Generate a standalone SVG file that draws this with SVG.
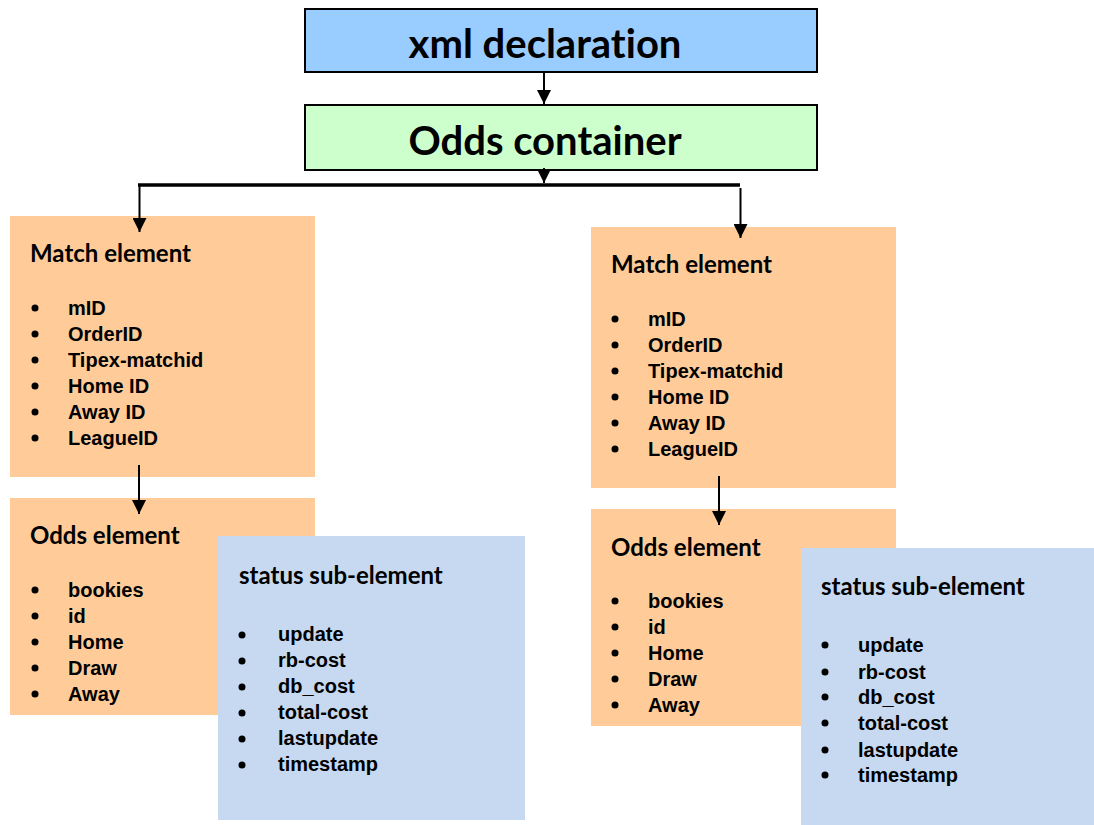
<svg xmlns="http://www.w3.org/2000/svg" width="1094" height="825" viewBox="0 0 1094 825">
<style>
.hdr{stroke:#000;stroke-width:2}
.orange{fill:#ffcc99}
.blue{fill:#c6d9f0}
.big{font-family:Lato,"Open Sans",sans-serif;font-weight:bold;font-size:40px;fill:#000;text-anchor:middle;font-variant-ligatures:none}
.title{font-family:Lato,"Open Sans",sans-serif;font-weight:bold;font-size:24px;fill:#000;font-variant-ligatures:none}
.item{font-family:"Liberation Sans",Arial,sans-serif;font-weight:bold;font-size:20px;fill:#000}
.conn{stroke:#000;stroke-width:2;fill:none}
</style>
<defs>
<marker id="ah2" viewBox="0 0 10 10" refX="10" refY="5" markerWidth="14" markerHeight="14" markerUnits="userSpaceOnUse" orient="auto">
<path d="M0,0 L10,5 L0,10 z" fill="#000"/>
</marker>
</defs>
<rect width="1094" height="825" fill="#fff"/>

<g id="xml-declaration">
<rect class="hdr" x="305" y="9" width="512" height="63" fill="#99ccff"/>
<text class="big" x="545" y="58">xml declaration</text>
</g>
<g id="odds-container">
<rect class="hdr" x="305" y="105" width="512" height="65" fill="#ccffcc"/>
<text class="big" x="545" y="155">Odds container</text>
</g>

<g id="match-left">
<rect class="orange" x="10" y="216" width="305" height="261"/>
<text class="title" x="30" y="262">Match element</text>
<g class="item">
<circle cx="35" cy="308" r="3.5"/><text class="item" x="68" y="315">mID</text>
<circle cx="35" cy="334" r="3.5"/><text class="item" x="68" y="341">OrderID</text>
<circle cx="35" cy="360" r="3.5"/><text class="item" x="68" y="367">Tipex-matchid</text>
<circle cx="35" cy="386" r="3.5"/><text class="item" x="68" y="393">Home ID</text>
<circle cx="35" cy="412" r="3.5"/><text class="item" x="68" y="419">Away ID</text>
<circle cx="35" cy="438" r="3.5"/><text class="item" x="68" y="445">LeagueID</text>
</g>
</g>

<g id="odds-left">
<rect class="orange" x="10" y="498" width="305" height="217"/>
<text class="title" x="30" y="544">Odds element</text>
<g class="item">
<circle cx="35" cy="590" r="3.5"/><text class="item" x="68" y="597">bookies</text>
<circle cx="35" cy="616" r="3.5"/><text class="item" x="68" y="623">id</text>
<circle cx="35" cy="642" r="3.5"/><text class="item" x="68" y="649">Home</text>
<circle cx="35" cy="668" r="3.5"/><text class="item" x="68" y="675">Draw</text>
<circle cx="35" cy="694" r="3.5"/><text class="item" x="68" y="701">Away</text>
</g>
</g>

<g id="status-left">
<rect class="blue" x="218" y="536" width="307" height="284"/>
<text class="title" x="239" y="584">status sub-element</text>
<g class="item">
<circle cx="242" cy="635" r="3.5"/><text class="item" x="278" y="641">update</text>
<circle cx="242" cy="661" r="3.5"/><text class="item" x="278" y="667">rb-cost</text>
<circle cx="242" cy="687" r="3.5"/><text class="item" x="278" y="693">db_cost</text>
<circle cx="242" cy="713" r="3.5"/><text class="item" x="278" y="719">total-cost</text>
<circle cx="242" cy="739" r="3.5"/><text class="item" x="278" y="745">lastupdate</text>
<circle cx="242" cy="765" r="3.5"/><text class="item" x="278" y="771">timestamp</text>
</g>
</g>

<g id="match-right">
<rect class="orange" x="591" y="227" width="305" height="261"/>
<text class="title" x="611" y="273">Match element</text>
<g class="item">
<circle cx="615" cy="319" r="3.5"/><text class="item" x="648" y="326">mID</text>
<circle cx="615" cy="345" r="3.5"/><text class="item" x="648" y="352">OrderID</text>
<circle cx="615" cy="371" r="3.5"/><text class="item" x="648" y="378">Tipex-matchid</text>
<circle cx="615" cy="397" r="3.5"/><text class="item" x="648" y="404">Home ID</text>
<circle cx="615" cy="423" r="3.5"/><text class="item" x="648" y="430">Away ID</text>
<circle cx="615" cy="449" r="3.5"/><text class="item" x="648" y="456">LeagueID</text>
</g>
</g>

<g id="odds-right">
<rect class="orange" x="591" y="509" width="305" height="217"/>
<text class="title" x="611" y="556">Odds element</text>
<g class="item">
<circle cx="615" cy="601" r="3.5"/><text class="item" x="648" y="608">bookies</text>
<circle cx="615" cy="627" r="3.5"/><text class="item" x="648" y="634">id</text>
<circle cx="615" cy="653" r="3.5"/><text class="item" x="648" y="660">Home</text>
<circle cx="615" cy="679" r="3.5"/><text class="item" x="648" y="686">Draw</text>
<circle cx="615" cy="705" r="3.5"/><text class="item" x="648" y="712">Away</text>
</g>
</g>

<g id="status-right">
<rect class="blue" x="801" y="548" width="293" height="277"/>
<text class="title" x="821" y="595">status sub-element</text>
<g class="item">
<circle cx="825" cy="645" r="3.5"/><text class="item" x="858" y="652">update</text>
<circle cx="825" cy="672" r="3.5"/><text class="item" x="858" y="679">rb-cost</text>
<circle cx="825" cy="697" r="3.5"/><text class="item" x="858" y="704">db_cost</text>
<circle cx="825" cy="723" r="3.5"/><text class="item" x="858" y="730">total-cost</text>
<circle cx="825" cy="750" r="3.5"/><text class="item" x="858" y="757">lastupdate</text>
<circle cx="825" cy="775" r="3.5"/><text class="item" x="858" y="782">timestamp</text>
</g>
</g>

<g id="connectors">
<line class="conn" x1="544" y1="72" x2="544" y2="104" marker-end="url(#ah2)"/>
<line class="conn" x1="544" y1="168" x2="544" y2="183" marker-end="url(#ah2)"/>
<polyline points="138,185 740,185" stroke="#000" stroke-width="3.5" fill="none"/>
<line class="conn" x1="139.5" y1="184" x2="139.5" y2="232" marker-end="url(#ah2)"/>
<line class="conn" x1="740.5" y1="188" x2="740.5" y2="238" marker-end="url(#ah2)"/>
<line class="conn" x1="139" y1="465" x2="139" y2="514" marker-end="url(#ah2)"/>
<line class="conn" x1="719" y1="476" x2="719" y2="525" marker-end="url(#ah2)"/>
</g>
</svg>
